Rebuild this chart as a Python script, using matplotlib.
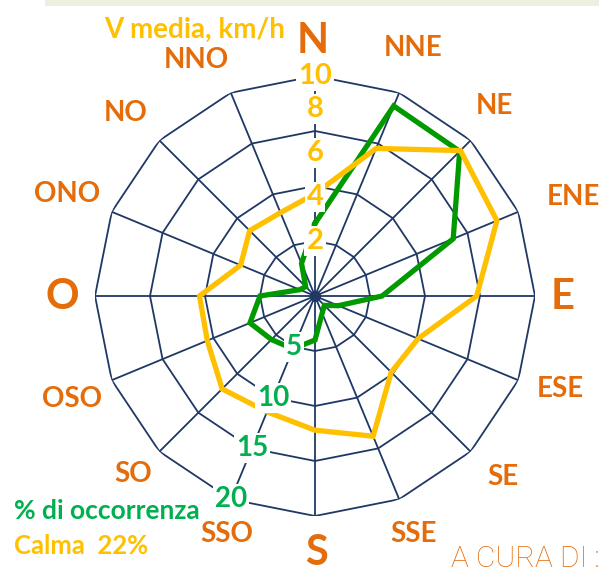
import numpy as np
import matplotlib
matplotlib.use('Agg')
import matplotlib.pyplot as plt
from matplotlib.patches import Rectangle

# ---- data ----
directions = ['N', 'NNE', 'NE', 'ENE', 'E', 'ESE', 'SE', 'SSE',
              'S', 'SSO', 'SO', 'OSO', 'O', 'ONO', 'NO', 'NNO']
occorrenza = [6.6, 18.7, 18.6, 13.6, 6.1, 2.3, 1.2, 1.7,
              4.0, 5.2, 5.6, 6.4, 5.0, 1.5, 1.2, 3.2]          # % di occorrenza
v_media = [4.65, 7.26, 9.35, 8.95, 7.35, 5.07, 4.9, 6.9,
           6.1, 5.7, 5.97, 5.3, 5.25, 3.66, 4.2, 4.1]          # km/h
green_ticks = [5, 10, 15, 20]
yellow_ticks = [2, 4, 6, 8, 10]
calma = "Calma  22%"

# ---- style ----
W, H = 599, 573
NAVY = '#1F3864'
ORANGE = '#E46C0A'
YELLOW = '#FFC000'
GREEN_TXT = '#00B050'
GREEN_LINE = '#009A00'
FONT = ['Lato', 'DejaVu Sans']
plt.rcParams['font.family'] = FONT

fig = plt.figure(figsize=(W / 100, H / 100), dpi=100)

def fx(px):
    return px / W

def fy(py):
    return 1 - py / H

# top band
fig.patches.append(Rectangle((fx(45), fy(6)), 1 - fx(45), 6 / H,
                             transform=fig.transFigure, facecolor='#EBF1DE',
                             edgecolor='none', zorder=0))

cx, cy, R = 315, 296, 220
rect = [fx(cx - R), fy(cy + R), 2 * R / W, 2 * R / H]

ax_g = fig.add_axes(rect, projection='polar', zorder=1)
ax_y = fig.add_axes(rect, projection='polar', zorder=2)
for ax in (ax_g, ax_y):
    ax.set_theta_zero_location('N')
    ax.set_theta_direction(-1)
    ax.axis('off')
    ax.patch.set_alpha(0)
ax_g.set_ylim(0, 20)
ax_y.set_ylim(0, 10)

n = len(directions)
theta = np.deg2rad(np.arange(n) * 360.0 / n)
theta_c = np.append(theta, theta[0])

# polygon grid
for t in green_ticks:
    ax_g.plot(theta_c, [t] * (n + 1), color=NAVY, lw=1.3, zorder=1)
for th in theta:
    ax_g.plot([th, th], [0, green_ticks[-1]], color=NAVY, lw=1.3, zorder=1)
ax_g.plot([0], [0], 'o', color=NAVY, ms=7, zorder=2)

# series
ax_g.plot(theta_c, occorrenza + occorrenza[:1], color=GREEN_LINE, lw=3.8,
          zorder=3, solid_joinstyle='miter')
ax_y.plot(theta_c, v_media + v_media[:1], color=YELLOW, lw=3.8,
          zorder=3, solid_joinstyle='miter')

# yellow scale labels along N axis
box = dict(facecolor='white', edgecolor='none', pad=1.5)
for v in yellow_ticks:
    off = 0 if v == yellow_ticks[-1] else 8
    ax_y.annotate(str(v), xy=(0, v), xytext=(0, off), textcoords='offset points',
                  ha='center', va='center', color=YELLOW, fontsize=21,
                  fontweight='bold', bbox=box, zorder=5)

# green scale labels along SSO axis
sso = theta[directions.index('SSO')]
for v in green_ticks:
    fig.text(sso, v, str(v), transform=ax_g.transData, ha='center', va='center',
             color=GREEN_TXT, fontsize=20, fontweight='bold', bbox=box, zorder=5)

# direction labels
label_pos = {
    'N': (313, 41), 'NNE': (413, 48), 'NE': (494, 106), 'ENE': (573, 197),
    'E': (563, 297), 'ESE': (560, 389), 'SE': (503, 477), 'SSE': (414, 534),
    'S': (316, 553), 'SSO': (227, 534), 'SO': (133, 474), 'OSO': (72, 399),
    'O': (62, 297), 'ONO': (67, 194), 'NO': (126, 113), 'NNO': (196, 60),
}
for d in directions:
    x, y = label_pos[d]
    big = d in ('N', 'E', 'S', 'O')
    fig.text(fx(x), fy(y), d, ha='center', va='center', color=ORANGE,
             fontsize=30 if big else 20, fontweight='bold')

fig.text(fx(195), fy(30), 'V media, km/h', ha='center', va='center',
         color=YELLOW, fontsize=20, fontweight='bold')
fig.text(fx(14), fy(511), '% di occorrenza', ha='left', va='center',
         color=GREEN_TXT, fontsize=19, fontweight='bold')
fig.text(fx(14), fy(546), calma, ha='left', va='center',
         color=YELLOW, fontsize=18.5, fontweight='bold')
fig.text(fx(451), fy(559), 'A CURA DI :', ha='left', va='center',
         color=ORANGE, fontsize=21.5, fontweight='light',
         family=['Roboto', 'Lato', 'DejaVu Sans'])

fig.savefig('out.png', dpi=100)
